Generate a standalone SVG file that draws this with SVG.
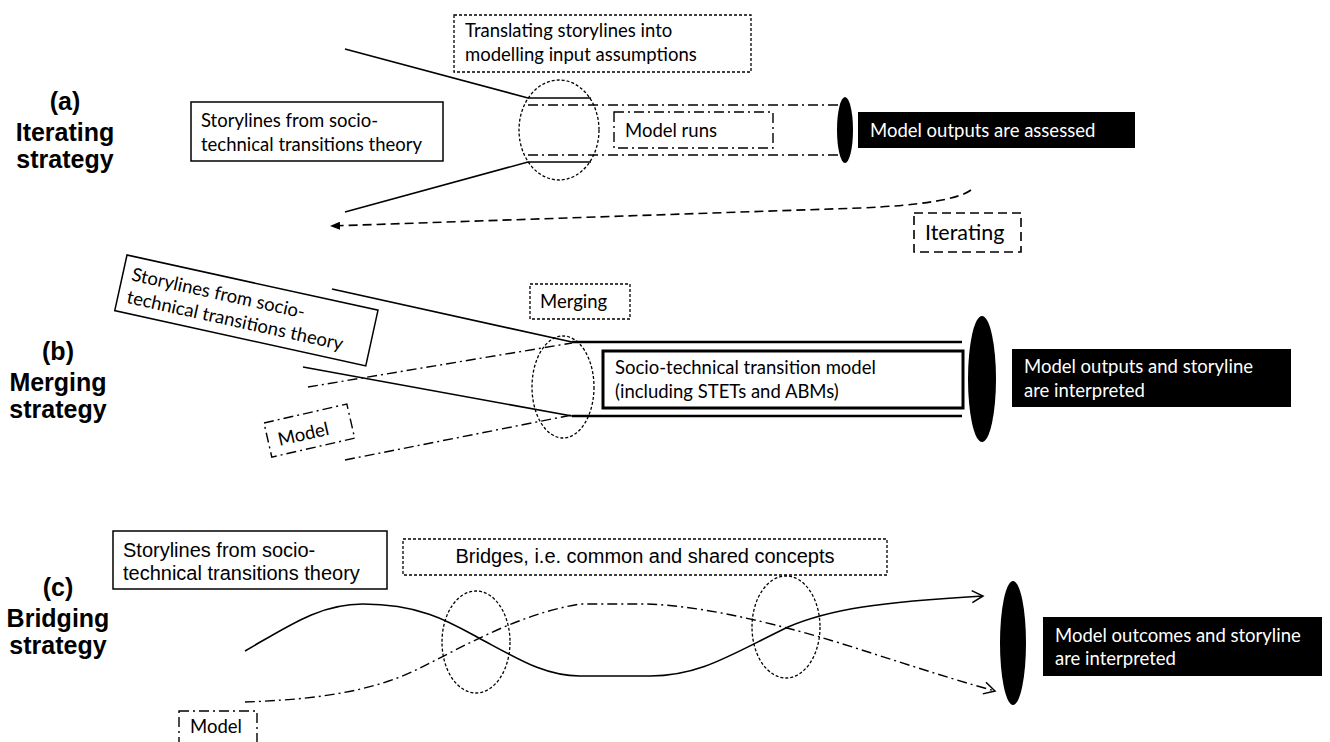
<svg xmlns="http://www.w3.org/2000/svg" width="1330" height="742" viewBox="0 0 1330 742">
<style>
  .lbl { font-family: "Liberation Sans", Arial, sans-serif; font-weight: bold; font-size: 25px; fill: #000; text-anchor: middle; }
  .cal { font-family: Lato, "Open Sans", sans-serif; font-size: 18.5px; fill: #000; }
  .calw { font-family: Lato, "Open Sans", sans-serif; font-size: 18.5px; fill: #fff; }
  .ari { font-family: "Liberation Sans", Arial, sans-serif; font-size: 20px; fill: #000; }
  .box { fill: #fff; stroke: #000; stroke-width: 1.5; }
  .dot { fill: none; stroke: #000; stroke-width: 1.3; stroke-dasharray: 3 2; }
  .dash { fill: none; stroke: #000; stroke-width: 1.6; stroke-dasharray: 9 5; }
  .dd { fill: none; stroke: #000; stroke-width: 1.4; stroke-dasharray: 10 4 2 4; }
  .sol { fill: none; stroke: #000; stroke-width: 1.6; }
  .thick { fill: none; stroke: #000; stroke-width: 2.6; }
  .blk { fill: #000; }
</style>
<defs>
  <marker id="tri" markerWidth="10" markerHeight="8" refX="9" refY="4" orient="auto" markerUnits="userSpaceOnUse">
    <path d="M0,0 L10,4 L0,8 z" fill="#000"/>
  </marker>
  <marker id="chev" markerWidth="14" markerHeight="14" refX="12" refY="7" orient="auto" markerUnits="userSpaceOnUse">
    <path d="M1,1 L12,7 L1,13" fill="none" stroke="#000" stroke-width="1.5"/>
  </marker>
</defs>

<!-- Panel labels -->
<g id="label-a">
  <text class="lbl" x="65" y="110">(a)</text>
  <text class="lbl" x="65" y="141">Iterating</text>
  <text class="lbl" x="65" y="168">strategy</text>
</g>
<g id="label-b">
  <text class="lbl" x="58" y="360">(b)</text>
  <text class="lbl" x="58" y="391">Merging</text>
  <text class="lbl" x="58" y="418">strategy</text>
</g>
<g id="label-c">
  <text class="lbl" x="58" y="596">(c)</text>
  <text class="lbl" x="58" y="627">Bridging</text>
  <text class="lbl" x="58" y="654">strategy</text>
</g>

<!-- Connectors -->
<g id="connectors">
  <!-- panel a -->
  <path class="sol" d="M345,49 L528,98 L591,98"/>
  <path class="sol" d="M345,212 L528,162 L591,162"/>
  <path class="dd" d="M528,105 L838,105"/>
  <path class="dd" d="M528,155 L838,155"/>
  <path class="dash" d="M971,190 Q952,204 860,208 L331,226" marker-end="url(#tri)"/>
  <!-- panel b -->
  <path class="sol" d="M332,289 L572,342"/>
  <path class="thick" d="M572,342 L962,342"/>
  <path class="sol" d="M303,367 L572,416"/>
  <path class="thick" d="M572,416 L962,416"/>
  <path class="dd" d="M308,387 L572,343"/>
  <path class="dd" d="M345,460 L572,415"/>
  <!-- panel c -->
  <path class="sol" d="M245,651 C290,625 320,604 363,604 C420,604 450,622 477,637 C520,660 545,676 580,676 L650,676 C700,676 730,655 788,627 C830,609 880,602 983,596" marker-end="url(#chev)"/>
  <path class="dd" d="M245,702 C300,700 367,695 420,668 C470,643 520,614 580,604 L647,604 C700,606 760,620 820,637 C870,652 940,676 995,691" marker-end="url(#chev)"/>
</g>

<!-- Panel (a) nodes -->
<g id="a-storylines">
  <rect class="box" x="191" y="102" width="252" height="59"/>
  <text class="cal" x="201" y="127">Storylines from socio-</text>
  <text class="cal" x="201" y="151">technical transitions theory</text>
</g>
<g id="a-translating">
  <rect class="dot" x="454" y="15" width="297" height="57"/>
  <text class="cal" x="465" y="37">Translating storylines into</text>
  <text class="cal" x="465" y="61">modelling input assumptions</text>
</g>
<g id="a-ellipse">
  <ellipse class="dot" cx="559" cy="130" rx="40" ry="50"/>
</g>
<g id="a-modelruns">
  <rect class="dd" x="614" y="112" width="159" height="36"/>
  <text class="cal" x="625" y="137">Model runs</text>
</g>
<g id="a-outputs">
  <ellipse class="blk" cx="845" cy="130" rx="8" ry="33"/>
  <rect class="blk" x="858" y="112" width="277" height="36"/>
  <text class="calw" x="870" y="137">Model outputs are assessed</text>
</g>
<g id="a-iterating">
  <rect class="dash" x="914" y="213" width="107" height="39"/>
  <text class="cal" x="925" y="240" style="font-size:21.5px">Iterating</text>
</g>

<!-- Panel (b) nodes -->
<g id="b-storylines" transform="translate(127,255) rotate(12.4)">
  <rect class="box" x="0" y="0" width="257" height="57"/>
  <text class="cal" x="9" y="24">Storylines from socio-</text>
  <text class="cal" x="9" y="47">technical transitions theory</text>
</g>
<g id="b-model" transform="translate(264,423) rotate(-12.9)">
  <rect class="dd" x="0" y="0" width="85" height="35"/>
  <text class="cal" x="10" y="26">Model</text>
</g>
<g id="b-merging">
  <rect class="dot" x="530" y="284" width="100" height="35"/>
  <text class="cal" x="540" y="308">Merging</text>
</g>
<g id="b-ellipse">
  <ellipse class="dot" cx="563" cy="387" rx="31" ry="51"/>
</g>
<g id="b-stmodel">
  <rect x="603" y="351" width="360" height="57" fill="#fff" stroke="#000" stroke-width="3"/>
  <text class="cal" x="615" y="374">Socio-technical transition model</text>
  <text class="cal" x="615" y="398">(including STETs and ABMs)</text>
</g>
<g id="b-outputs">
  <ellipse class="blk" cx="982" cy="379" rx="14" ry="63"/>
  <rect class="blk" x="1012" y="349" width="279" height="58"/>
  <text class="calw" x="1024" y="373">Model outputs and storyline</text>
  <text class="calw" x="1024" y="397">are interpreted</text>
</g>

<!-- Panel (c) nodes -->
<g id="c-storylines">
  <rect class="box" x="113" y="531" width="274" height="58"/>
  <text class="ari" x="123" y="557">Storylines from socio-</text>
  <text class="ari" x="123" y="580">technical transitions theory</text>
</g>
<g id="c-bridges">
  <rect class="dot" x="403" y="539" width="484" height="36"/>
  <text class="ari" x="645" y="563" text-anchor="middle">Bridges, i.e. common and shared concepts</text>
</g>
<g id="c-ellipse1">
  <ellipse class="dot" cx="476" cy="642" rx="34" ry="51"/>
</g>
<g id="c-ellipse2">
  <ellipse class="dot" cx="786" cy="627" rx="34" ry="51"/>
</g>
<g id="c-model">
  <rect class="dd" x="179" y="711" width="78" height="40"/>
  <text class="cal" x="190" y="733">Model</text>
</g>
<g id="c-outcomes">
  <ellipse class="blk" cx="1013" cy="643" rx="13" ry="62"/>
  <rect class="blk" x="1043" y="617" width="279" height="59"/>
  <text class="calw" x="1055" y="642">Model outcomes and storyline</text>
  <text class="calw" x="1055" y="665">are interpreted</text>
</g>
</svg>
